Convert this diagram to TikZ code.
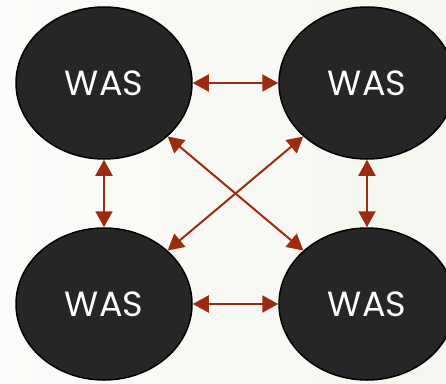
\documentclass[tikz,border=0pt]{standalone}
\usepackage{fontspec}
\setmainfont{Poppins}
\usetikzlibrary{arrows.meta,shapes.geometric}
\definecolor{bgleft}{RGB}{251,251,249}
\definecolor{bgright}{RGB}{244,246,239}
\definecolor{nodefill}{RGB}{38,38,38}
\definecolor{linkred}{RGB}{156,43,16}
\begin{document}
\begin{tikzpicture}[x=1pt,y=-1pt,
  was/.style={draw=black,line width=1.5pt,fill=nodefill,ellipse,
    minimum width=176pt,minimum height=152pt,inner sep=0pt,
    text=white,font=\fontsize{35}{35}\selectfont},
  link/.style={draw=linkred,line width=2pt,
    {Triangle[length=16pt,width=17pt]}-{Triangle[length=16pt,width=17pt]}}]
\useasboundingbox (0,0) rectangle (446,383);
\clip (0,0) rectangle (446,383);
\shade[left color=bgleft,right color=bgright] (0,0) rectangle (446,383);

\node[was] (1) at (104,83) {WAS};
\node[was] (2) at (367,83) {WAS};
\node[was] (3) at (104,304) {WAS};
\node[was] (4) at (367,304) {WAS};

\path[link] (1) -- (2);
\path[link] (3) -- (4);
\path[link] (1) -- (3);
\path[link] (2) -- (4);
\path[link] (1) -- (4);
\path[link] (2) -- (3);
\end{tikzpicture}
\end{document}
